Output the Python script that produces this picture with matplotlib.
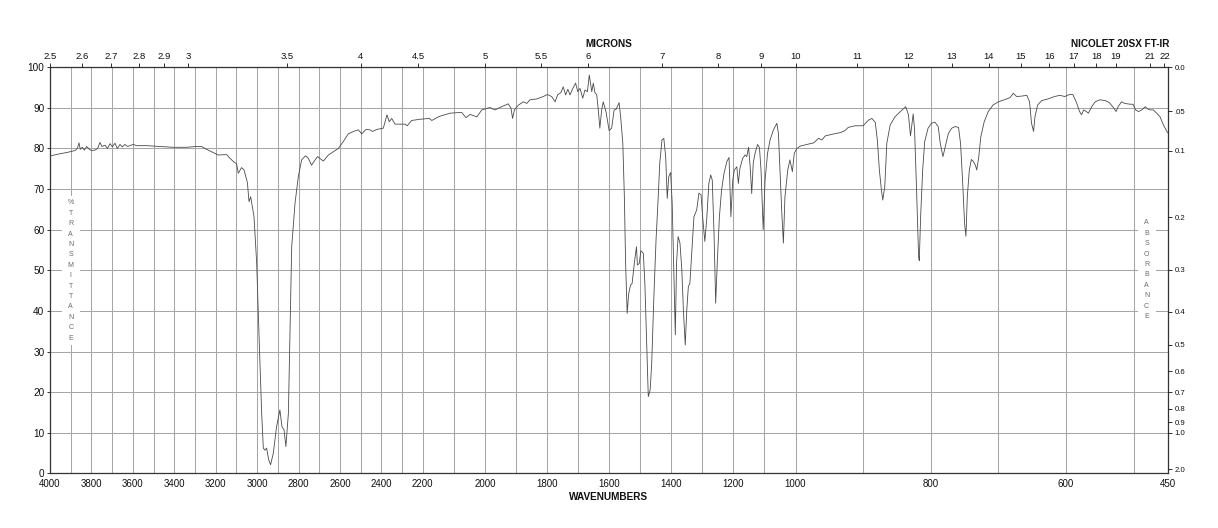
#!/usr/bin/env python3
"""
IR spectrum chart (Nicolet 20SX FT-IR style) with split wavenumber scale,
micron axis on top and absorbance axis on the right.
"""

import numpy as np
import matplotlib
matplotlib.use("Agg")
import matplotlib.pyplot as plt
from matplotlib.patches import Rectangle

plt.rcParams['font.family'] = ['Liberation Sans', 'DejaVu Sans']

# spectrum (wavenumber cm-1, % transmittance)
wavenumber = [
    4000, 3997, 3952, 3920, 3896, 3879, 3868, 3860, 3854, 3844, 3834, 3823, 3810, 3799,
    3783, 3770, 3759, 3749, 3734, 3723, 3710, 3699, 3686, 3675, 3662, 3651, 3638, 3625,
    3610, 3598, 3581, 3533, 3469, 3405, 3340, 3292, 3268, 3252,
    3212, 3188, 3147, 3131, 3115, 3099, 3091, 3075, 3063, 3047, 3039, 3031, 3015, 3002,
    2989, 2978, 2970, 2962, 2954, 2944, 2935, 2922, 2906, 2890, 2880, 2870, 2861, 2849,
    2841, 2833, 2817, 2801, 2785, 2766, 2753, 2737, 2720, 2708, 2680, 2656, 2632, 2608,
    2584, 2560, 2535, 2511, 2495, 2474, 2455, 2442, 2422, 2391, 2382, 2373, 2362, 2350,
    2334, 2310, 2286, 2275, 2254, 2214, 2179, 2171, 2147,
    2112, 2075, 2061, 2048, 2026, 2010, 1984, 1968, 1946, 1925, 1916, 1911, 1905, 1892,
    1876, 1865, 1855, 1833, 1812, 1799, 1785, 1774, 1766, 1755, 1748, 1740, 1733, 1726,
    1717, 1708, 1701, 1694, 1685, 1678, 1670, 1664, 1656, 1651, 1646, 1640, 1635, 1630,
    1624, 1619, 1610, 1600, 1592, 1584, 1578, 1574, 1568,
    1563, 1556, 1551, 1547, 1542, 1537, 1531, 1526, 1519, 1512, 1509, 1503, 1498, 1490,
    1485, 1479, 1474, 1468, 1463, 1456, 1449, 1442, 1437, 1430, 1424, 1418, 1413, 1408,
    1402, 1397, 1391, 1387, 1383, 1378, 1372, 1366, 1361, 1355, 1350, 1345, 1340, 1333,
    1327, 1318, 1311, 1304, 1299, 1292, 1286, 1279, 1273, 1268, 1262, 1257, 1252, 1245,
    1238, 1230, 1221, 1214, 1208, 1202, 1197, 1189, 1184, 1179, 1170, 1162, 1157, 1151,
    1146, 1141, 1136, 1130, 1122, 1116,
    1111, 1104, 1098, 1090, 1082, 1071, 1060, 1055, 1050, 1044, 1039, 1034, 1025, 1018,
    1010, 1004, 998, 993, 983, 973, 966, 961, 956, 946, 934, 927, 922, 912, 900, 892,
    887, 882, 879, 876, 873, 871, 868, 865, 860, 853, 845, 837, 833, 830, 826, 824, 821,
    818, 817, 815, 812, 809, 804, 799, 794, 789, 786, 782, 778, 774, 769, 764, 759, 756,
    753, 750, 748, 746, 743, 740, 737, 734, 732, 729, 726, 721, 715, 708, 700, 690, 683,
    678, 673, 666, 658, 654, 651, 648, 646, 642, 636, 627, 617, 609, 602, 595, 590, 585,
    580, 577, 574, 570, 567, 562, 557, 550, 542, 536, 530, 526, 523, 518, 513, 505, 501,
    497, 493, 488, 483, 479, 475, 471, 466, 461, 456, 451, 450,
]
transmittance = [
    78.0, 78.2, 78.7, 79.0, 79.3, 79.5, 80.0, 81.4, 79.8, 80.3, 79.6, 80.5, 79.8, 79.5,
    79.6, 80.0, 81.5, 80.5, 80.8, 80.0, 81.2, 80.4, 81.3, 80.0, 81.0, 80.4, 81.0, 80.5,
    80.8, 81.0, 80.7, 80.7, 80.5, 80.3, 80.3, 80.5, 80.5, 80.0,
    79.0, 78.4, 78.5, 77.6, 76.8, 76.2, 73.9, 75.3, 74.7, 71.6, 66.9, 68.1, 63.2, 51.7,
    31.2, 14.8, 6.2, 5.7, 6.2, 3.3, 2.1, 4.9, 11.5, 15.6, 11.5, 10.7, 6.6, 14.8,
    35.3, 55.8, 66.5, 73.1, 77.2, 78.2, 77.6, 75.9, 77.2, 78.0, 76.9, 78.4, 79.2, 80.0,
    81.7, 83.6, 84.2, 84.6, 83.6, 84.7, 84.6, 84.2, 84.7, 85.0, 86.6, 88.3, 86.6, 87.4,
    86.0, 86.0, 86.0, 85.6, 86.9, 87.2, 87.4, 86.9, 87.9,
    88.7, 88.9, 87.6, 88.4, 87.8, 89.5, 90.1, 89.5, 90.3, 91.0, 89.9, 87.4, 89.5, 90.7,
    91.5, 91.1, 92.0, 92.2, 92.8, 93.3, 92.8, 91.5, 93.2, 93.8, 95.2, 93.2, 94.6, 93.2,
    94.8, 96.1, 94.0, 94.8, 92.4, 94.4, 94.0, 98.1, 94.0, 96.1, 93.8, 93.2, 89.5, 85.0,
    89.5, 91.5, 89.0, 84.4, 85.0, 89.5, 89.6, 90.3, 91.3,
    87.8, 81.3, 68.1, 51.7, 39.4, 44.3, 46.4, 46.8, 51.7, 55.8, 51.3, 51.7, 54.8, 54.2,
    46.8, 31.2, 18.9, 20.5, 27.1, 43.5, 57.5, 68.1, 76.4, 82.1, 82.5, 78.0, 67.7, 73.1,
    74.1, 66.5, 47.6, 34.1, 51.7, 58.3, 56.7, 50.1, 40.2, 31.6, 40.2, 46.0, 46.8, 55.8,
    63.2, 64.9, 69.0, 68.6, 63.2, 57.1, 62.4, 71.4, 73.5, 72.2, 58.3, 41.9, 51.7, 63.2,
    69.8, 73.9, 76.8, 77.8, 63.2, 72.2, 74.7, 75.5, 71.4, 75.1, 77.6, 78.4, 78.0, 80.3,
    75.5, 68.9, 76.4, 78.9, 81.0, 80.2,
    74.7, 60.0, 72.2, 78.8, 82.1, 84.6, 86.2, 83.7, 74.7, 64.0, 56.7, 68.1, 74.7, 77.2,
    74.3, 78.8, 80.0, 80.6, 81.0, 81.4, 82.5, 82.1, 83.1, 83.5, 83.9, 84.4, 85.2, 85.6, 85.6, 87.0,
    87.4, 86.4, 82.1, 74.7, 69.8, 67.3, 70.6, 81.3, 85.8, 87.8, 89.1, 90.3, 88.3, 83.1, 88.5, 84.8, 69.8,
    53.4, 52.4, 63.2, 74.7, 81.7, 85.0, 86.2, 86.5, 85.4, 81.3, 78.0, 80.9, 83.7, 85.0, 85.4, 85.2, 81.3,
    72.2, 61.5, 58.4, 68.1, 74.7, 77.3, 76.8, 75.9, 74.7, 78.0, 82.9, 86.6, 89.1, 90.7, 91.5, 92.1, 92.5,
    93.6, 92.8, 92.9, 93.1, 91.5, 86.2, 84.2, 87.8, 90.7, 91.8, 92.2, 92.8, 93.1, 92.8, 93.3, 93.3, 91.5,
    89.1, 88.3, 89.5, 89.1, 88.7, 90.3, 91.5, 92.0, 91.8, 91.3, 90.1, 89.1, 90.3, 91.5, 91.1, 90.9, 90.9,
    89.5, 89.1, 89.5, 90.3, 89.7, 89.5, 89.5, 88.7, 87.8, 85.8, 84.2, 83.9,
]

# axis labels
wn_labels = [4000, 3800, 3600, 3400, 3200, 3000, 2800, 2600, 2400, 2200,
             2000, 1800, 1600, 1400, 1200, 1000, 800, 600, 450]
micron_labels = ['2.5', '2.6', '2.7', '2.8', '2.9', '3', '3.5', '4', '4.5', '5', '5.5',
                 '6', '7', '8', '9', '10', '11', '12', '13', '14', '15', '16', '17',
                 '18', '19', '21', '22']
absorbance_labels = ['0.0', '.05', '0.1', '0.2', '0.3', '0.4', '0.5', '0.6', '0.7',
                     '0.8', '0.9', '1.0', '2.0']

# chart paper: three linear pieces (4000-2200, 2200-1000, 1000-450)
BREAK_WN = [450, 1000, 2200, 4000]
BREAK_POS = [0.0, 372.0, 744.7, 1117.5]


def fwd(w):
    return np.interp(w, BREAK_WN, BREAK_POS)


def inv(p):
    return np.interp(p, BREAK_POS, BREAK_WN)


W, H = 1218, 528
fig = plt.figure(figsize=(W / 100, H / 100), dpi=100)
ax = fig.add_axes([50 / W, (H - 473.3) / H, 1117.5 / W, 406 / H])

grid_kw = dict(color='#a6a6a6', linewidth=0.75)
line_col = '#4a4a4a'

ax.set_xscale('function', functions=(fwd, inv))
ax.set_xlim(4000, 450)
ax.set_ylim(0, 100)
ax.set_axisbelow(True)

ax.plot(wavenumber, transmittance, color=line_col, linewidth=0.6, zorder=3)

# wavenumber axis
ax.set_xticks(wn_labels)
ax.set_xticklabels([str(v) for v in wn_labels])
ax.set_xticks(list(range(500, 4000, 100)), minor=True)
ax.tick_params(axis='x', which='both', length=0, pad=4, labelsize=7, colors='#111111')
ax.grid(which='both', axis='x', **grid_kw)

# %T axis
ax.set_yticks(range(0, 101, 10))
ax.tick_params(axis='y', length=2, width=0.6, pad=2, labelsize=7.2, colors='#111111')
ax.grid(which='major', axis='y', **grid_kw)

for s in ax.spines.values():
    s.set_color('#333333')
    s.set_linewidth(0.9)

# microns on top
top = ax.twiny()
top.set_xscale('function', functions=(fwd, inv))
top.set_xlim(4000, 450)
top.set_xticks([10000 / float(m) for m in micron_labels])
top.set_xticklabels(micron_labels)
top.tick_params(axis='x', length=3, width=0.6, pad=1.5, labelsize=6.8, colors='#111111')
for s in top.spines.values():
    s.set_visible(False)

# absorbance on the right
right = ax.twinx()
right.set_ylim(0, 100)
right.set_yticks([100 * 10 ** (-float(a)) for a in absorbance_labels])
right.set_yticklabels(absorbance_labels)
right.tick_params(axis='y', length=3, width=0.6, pad=2, labelsize=5.6, colors='#111111')
for s in right.spines.values():
    s.set_visible(False)


def stacked(word, x_wn, y0_px, x_pad_px):
    """Vertical letter column with a white strip behind it."""
    step = 10.4
    x_ax = (fwd(4000) - fwd(x_wn)) / 1117.5
    y_top = y0_px - 7
    y_bot = y0_px + step * (len(word) - 1) + 7
    ax.add_patch(Rectangle((x_ax - x_pad_px / 1117.5, (473.3 - y_bot) / 406),
                           2 * x_pad_px / 1117.5, (y_bot - y_top) / 406,
                           transform=ax.transAxes, facecolor='white',
                           edgecolor='none', zorder=1))
    for i, ch in enumerate(word):
        ax.text(x_ax, (473.3 - (y0_px + i * step)) / 406, ch, transform=ax.transAxes,
                ha='center', va='center', fontsize=5, color='#6a6a6a', zorder=4)


stacked('%TRANSMITTANCE', 3900, 203, 9)
stacked('ABSORBANCE', 481, 223, 9)

fig.text(609 / W, 1 - 44 / H, 'MICRONS', ha='center', va='center',
         fontsize=7.2, fontweight='bold', color='#111111')
fig.text(1169 / W, 1 - 44 / H, 'NICOLET 20SX FT-IR', ha='right', va='center',
         fontsize=7.2, fontweight='bold', color='#111111')
fig.text(609 / W, 1 - 496.5 / H, 'WAVENUMBERS', ha='center', va='center',
         fontsize=7.2, fontweight='bold', color='#111111')

fig.savefig('out.png', dpi=100)
